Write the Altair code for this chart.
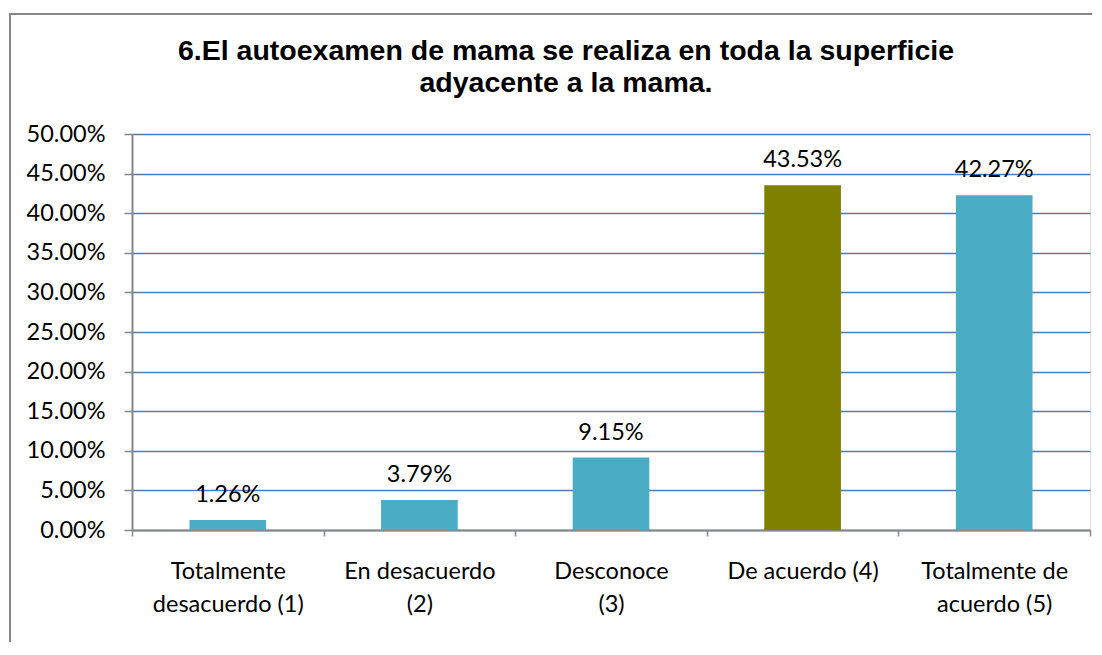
import altair as alt
import pandas as pd

categories = [
    "Totalmente\ndesacuerdo (1)",
    "En desacuerdo\n(2)",
    "Desconoce\n(3)",
    "De acuerdo (4)",
    "Totalmente de\nacuerdo (5)",
]
values = [0.0126, 0.0379, 0.0915, 0.4353, 0.4227]
bar_colors = ["#4bacc6", "#4bacc6", "#4bacc6", "#808000", "#4bacc6"]
y_ticks = [0.0, 0.05, 0.10, 0.15, 0.20, 0.25, 0.30, 0.35, 0.40, 0.45, 0.50]
title_lines = ["6.El autoexamen de mama se realiza en toda la superficie",
               "adyacente a la mama."]

df = pd.DataFrame({"cat": categories, "val": values, "color": bar_colors})

FONT = "Lato"
FS = 23.5
W, H = 958, 396

base = alt.Chart(df).encode(
    x=alt.X(
        "cat:N",
        sort=categories,
        title=None,
        scale=alt.Scale(paddingInner=0, paddingOuter=0),
        axis=alt.Axis(
            labelAngle=0,
            labelExpr="split(datum.label, '\\n')",
            labelFont=FONT,
            labelFontSize=FS,
            labelColor="#000000",
            labelLineHeight=33,
            labelPadding=23,
            tickBand="extent",
            tickSize=6,
            tickColor="#868686",
            tickWidth=1.5,
            domainColor="#868686",
            domainWidth=2,
            grid=False,
        ),
    ),
    y=alt.Y(
        "val:Q",
        title=None,
        scale=alt.Scale(domain=[0, 0.5], nice=False),
        axis=alt.Axis(
            values=y_ticks,
            format=".2%",
            labelFont=FONT,
            labelFontSize=FS,
            labelColor="#000000",
            labelPadding=19,
            tickSize=8,
            tickColor="#868686",
            tickWidth=1.5,
            domainColor="#868686",
            domainWidth=2,
            grid=True,
            gridColor="#4a7ebb",
            gridWidth=1.5,
        ),
    ),
)

bars = base.mark_bar(width=alt.RelativeBandSize(0.4)).encode(
    color=alt.Color("color:N", scale=None)
)

labels = base.mark_text(
    font=FONT, fontSize=FS, color="#000000", baseline="alphabetic", dy=-18
).encode(text=alt.Text("val:Q", format=".2%"))

frame_data = alt.Data(values=[{"k": 1}])
left_border = alt.Chart(frame_data).mark_rule(
    color="#868686", strokeWidth=2
).encode(x=alt.value(-122), y=alt.value(-120), y2=alt.value(508))
top_border = alt.Chart(frame_data).mark_rule(
    color="#868686", strokeWidth=2
).encode(x=alt.value(-123), x2=alt.value(960), y=alt.value(-120))

title_layers = []
for line, ypos in zip(title_lines, [-74, -42.5]):
    title_layers.append(
        alt.Chart(alt.Data(values=[{"t": line}]))
        .mark_text(
            font="Liberation Sans",
            fontSize=28.5,
            fontWeight="bold",
            color="#000000",
            align="center",
            baseline="alphabetic",
        )
        .encode(text=alt.Text("t:N"), x=alt.value(434), y=alt.value(ypos))
    )

chart = (
    alt.layer(left_border, top_border, bars, labels, *title_layers)
    .properties(
        width=W,
        height=H,
        padding={"left": 0, "top": 5, "right": 0, "bottom": 0},
    )
    .configure_view(strokeOpacity=0)
    .configure(background="#ffffff")
)

chart.save("out.html", embed_options={"renderer": "svg", "actions": False})
